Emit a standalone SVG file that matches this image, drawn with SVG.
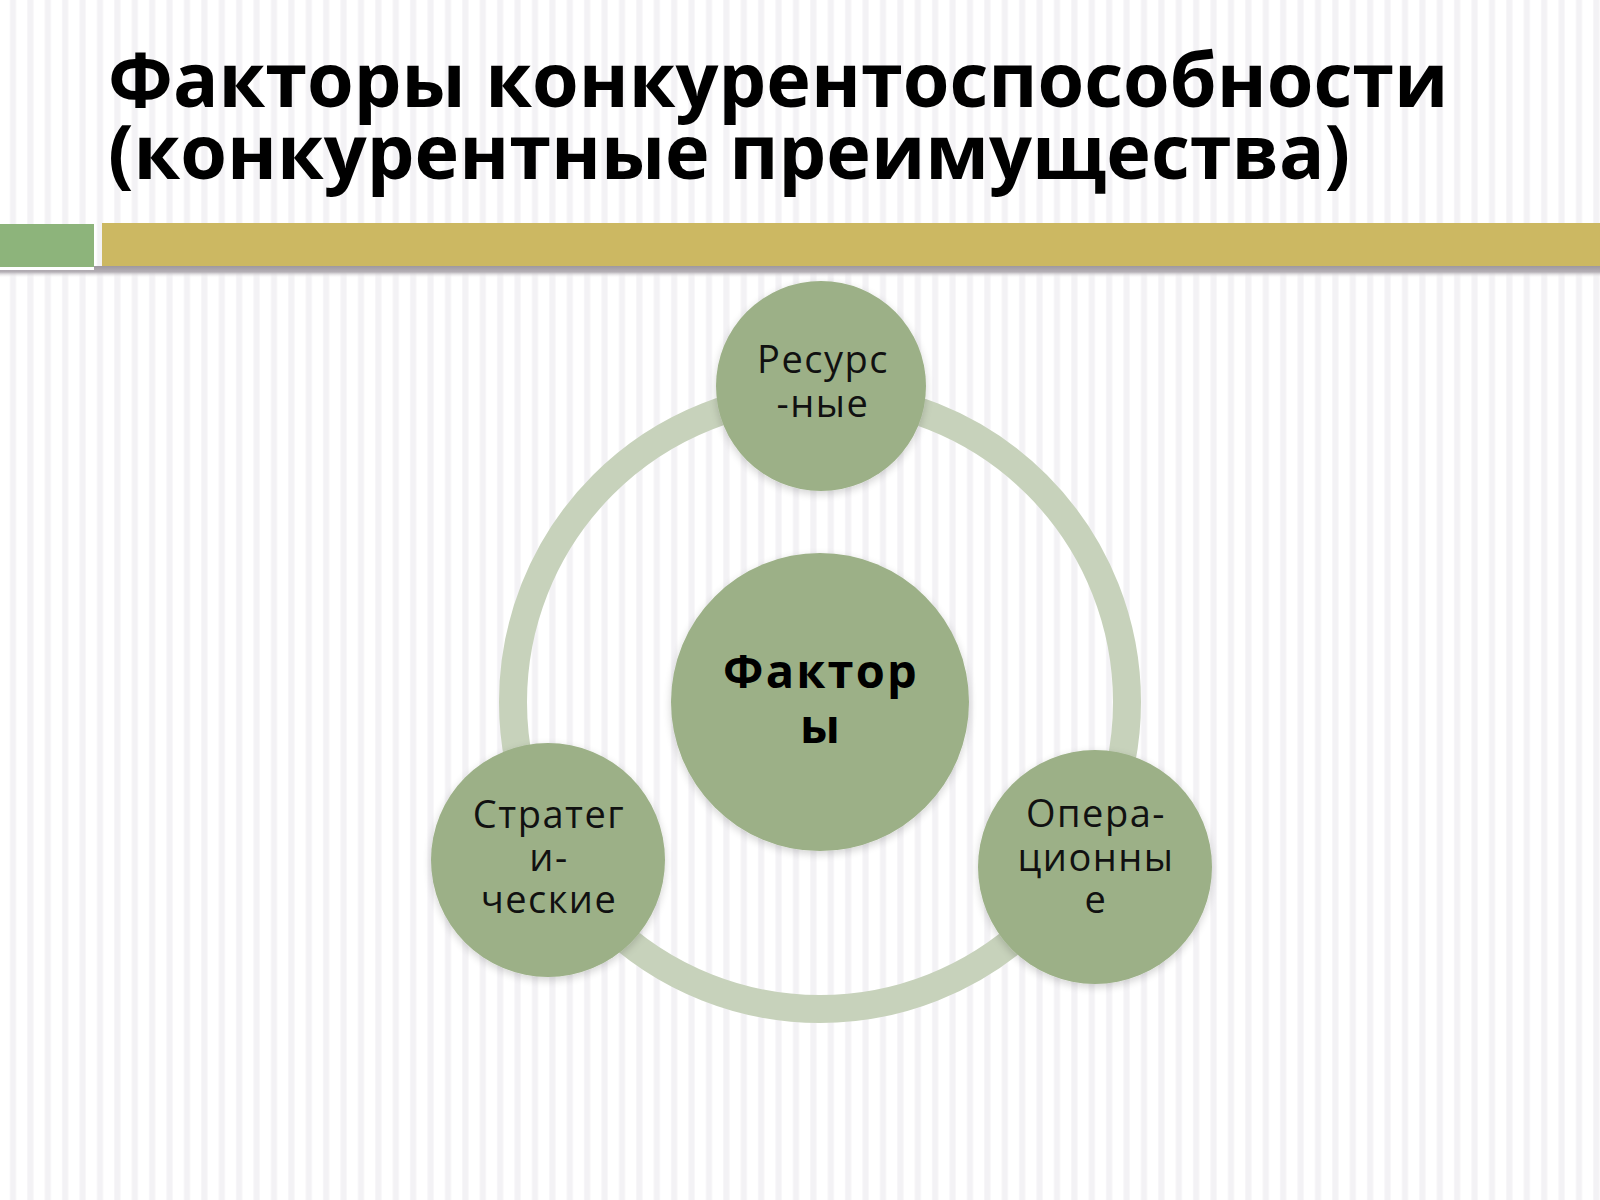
<svg xmlns="http://www.w3.org/2000/svg" width="1600" height="1200" viewBox="0 0 1600 1200">
  <defs>
    <pattern id="stripes" x="0" y="0" width="17.4" height="20" patternUnits="userSpaceOnUse">
      <rect x="0" y="0" width="17.4" height="20" fill="#ffffff"/>
      <rect x="10" y="0" width="6" height="20" fill="#f3f2f5"/>
    </pattern>
    <linearGradient id="shadowBar" x1="0" y1="0" x2="0" y2="1">
      <stop offset="0" stop-color="#9e989f"/>
      <stop offset="0.5" stop-color="#b5b0b6"/>
      <stop offset="1" stop-color="#ffffff" stop-opacity="0"/>
    </linearGradient>
    <filter id="shadow" x="-20%" y="-20%" width="140%" height="140%">
      <feGaussianBlur in="SourceAlpha" stdDeviation="4"/>
      <feOffset dx="0" dy="3" result="b"/>
      <feComponentTransfer><feFuncA type="linear" slope="0.18"/></feComponentTransfer>
      <feMerge><feMergeNode/><feMergeNode in="SourceGraphic"/></feMerge>
    </filter>
  </defs>
  <style>
    .node { fill: #9cb087; filter: url(#shadow); }
    .lbl { font-family: "Open Sans", "Noto Sans", "DejaVu Sans", sans-serif; font-size: 38px; letter-spacing: 1.5px; fill: #111111; text-anchor: middle; }
    .lblb { font-family: "Open Sans", "Noto Sans", "DejaVu Sans", sans-serif; font-size: 47px; letter-spacing: 2.2px; font-weight: bold; fill: #000000; text-anchor: middle; }
    .title { font-family: "Open Sans", "Noto Sans", "DejaVu Sans", sans-serif; font-size: 75.5px; font-weight: bold; fill: #000000; }
  </style>

  <rect x="0" y="0" width="1600" height="1200" fill="url(#stripes)"/>

  <g id="title">
    <text class="title" x="108" y="107">Факторы конкурентоспособности</text>
    <text class="title" x="108" y="179">(конкурентные преимущества)</text>
  </g>

  <g id="header-bar">
    <rect x="0" y="266" width="1600" height="12" fill="url(#shadowBar)"/>
    <rect x="0" y="224" width="94" height="43" fill="#8db47b"/>
    <rect x="102" y="223" width="1498" height="43" fill="#ccb862"/>
    <rect x="0" y="267" width="94" height="3" fill="#ffffff"/>
  </g>

  <g id="connectors">
    <circle cx="820" cy="702" r="307" fill="none" stroke="#c7d2bb" stroke-width="28"/>
  </g>

  <g id="node-center">
    <circle class="node" cx="820" cy="702" r="149"/>
    <text class="lblb" x="821" y="688">Фактор</text>
    <text class="lblb" x="821" y="743">ы</text>
  </g>

  <g id="node-top">
    <circle class="node" cx="821" cy="386" r="105"/>
    <text class="lbl" x="823" y="373">Ресурс</text>
    <text class="lbl" x="823" y="417">-ные</text>
  </g>

  <g id="node-left">
    <circle class="node" cx="548" cy="860" r="117"/>
    <text class="lbl" x="549" y="828">Стратег</text>
    <text class="lbl" x="549" y="871">и-</text>
    <text class="lbl" x="549" y="913">ческие</text>
  </g>

  <g id="node-right">
    <circle class="node" cx="1095" cy="867" r="117"/>
    <text class="lbl" x="1096" y="827">Опера-</text>
    <text class="lbl" x="1096" y="871">ционны</text>
    <text class="lbl" x="1096" y="913">е</text>
  </g>
</svg>
